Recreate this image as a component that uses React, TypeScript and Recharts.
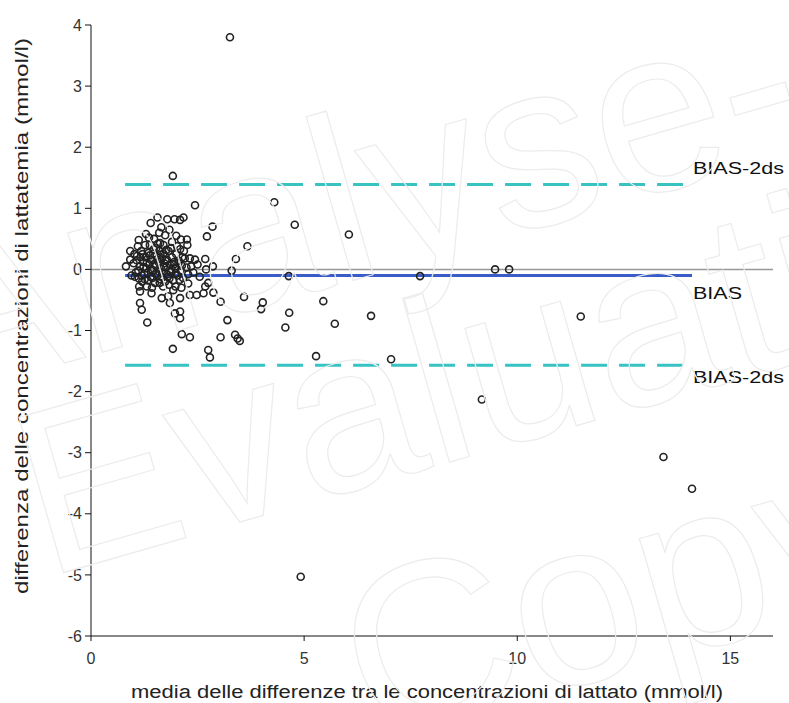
import React from "react"
import { ReferenceLine, Scatter, ScatterChart, XAxis, YAxis } from "recharts"

// media delle differenze (x) e differenza (y)
const meanValues = [
  3.26, 1.92, 2.44, 4.3, 4.78, 6.05, 3.67, 2.85, 2.72, 3.4, 3.3, 2.86, 2.7, 4.64, 7.72, 9.48, 9.81,
  3.59, 4.03, 3.99, 4.65, 4.56, 5.45, 5.72, 6.57, 11.49, 3.49, 3.44, 3.38, 5.28, 7.04, 9.17, 13.43,
  14.1, 4.92, 3.04, 2.32, 2.13, 1.92, 2.75, 2.79, 3.2, 3.04, 1.32, 1.15, 1.19, 1.85, 1.97, 2.09,
  2.09, 2.87, 2.64, 2.68, 2.75, 2.28, 2.32, 2.48, 2.09, 1.93, 1.81, 1.66, 1.42, 1.31, 1.15,
  1.56, 1.79, 1.96, 2.09, 2.17, 1.4, 1.65, 1.84, 1.74, 1.29, 1.12, 2.11, 2.25, 0.92, 1.38, 1.62,
  2.09, 2.68, 0.92, 0.82, 2.32, 2.44,
  1.0, 1.05, 1.08, 1.12, 1.15, 1.18, 1.2, 1.22, 1.25, 1.28, 1.3, 1.33, 1.35, 1.37, 1.4, 1.42, 1.45,
  1.47, 1.5, 1.52, 1.54, 1.56, 1.58, 1.6, 1.62, 1.64, 1.66, 1.68, 1.7, 1.72, 1.74, 1.76, 1.78, 1.8,
  1.82, 1.85, 1.87, 1.9, 1.93, 1.95, 1.98, 2.0, 2.03, 2.06, 2.1, 2.13, 2.16, 2.2, 2.24, 2.28, 0.95,
  1.1, 1.27, 1.43, 1.57, 1.69, 1.83, 2.02, 2.35, 2.4, 2.5, 2.55, 1.48, 1.36, 1.6, 1.9, 2.0, 1.02,
  1.13, 1.7, 1.53, 1.88, 2.18, 2.26, 1.98, 2.12,
  1.03, 1.07, 1.11, 1.16, 1.19, 1.23, 1.26, 1.31, 1.34, 1.38, 1.41, 1.44, 1.49, 1.51, 1.55, 1.59,
  1.63, 1.67, 1.71, 1.75, 1.79, 1.84, 1.89, 1.94, 1.99, 2.05, 2.08, 2.14, 1.21, 1.46, 1.61, 1.77,
]
const diffValues = [
  3.8, 1.53, 1.05, 1.1, 0.73, 0.57, 0.38, 0.7, 0.54, 0.17, -0.02, 0.05, 0.0, -0.11, -0.11, 0.0, 0.0,
  -0.45, -0.54, -0.65, -0.71, -0.95, -0.52, -0.89, -0.76, -0.77, -1.17, -1.13, -1.07, -1.42, -1.47,
  -2.13, -3.07, -3.59, -5.03, -1.11, -1.11, -1.06, -1.3, -1.32, -1.44, -0.83, -0.53, -0.87, -0.55,
  -0.66, -0.55, -0.72, -0.69, -0.8, -0.38, -0.39, -0.28, -0.22, -0.23, -0.42, -0.42, -0.47, -0.34,
  -0.44, -0.47, -0.39, -0.28, -0.36,
  0.85, 0.82, 0.82, 0.81, 0.85, 0.76, 0.69, 0.65, 0.56, 0.58, 0.48, 0.49, 0.49, 0.3, 0.4, 0.43,
  0.33, 0.17, 0.16, 0.05, 0.18, 0.16,
  0.1, -0.05, 0.22, -0.15, 0.05, 0.3, -0.2, 0.12, -0.08, 0.2, 0.02, -0.18, 0.27, 0.08, -0.12, 0.15,
  -0.02, 0.33, -0.22, 0.06, 0.22, -0.1, 0.12, 0.3, -0.16, 0.02, 0.18, -0.06, 0.26, 0.1, -0.2, 0.04,
  0.16, -0.12, 0.3, 0.08, -0.04, 0.2, -0.18, 0.12, 0.02, 0.25, -0.1, 0.14, -0.02, 0.06, -0.14, 0.18,
  0.03, -0.08, -0.1, 0.38, 0.4, -0.3, 0.42, -0.28, -0.25, 0.38, 0.05, -0.05, 0.08, -0.12, 0.5, 0.52,
  0.6, 0.45, 0.55, 0.25, -0.28, 0.4, 0.35, 0.35, 0.3, 0.4, -0.28, -0.3,
  -0.12, 0.15, -0.02, 0.2, -0.1, 0.04, -0.16, 0.11, -0.05, 0.23, 0.0, -0.14, 0.09, -0.07, 0.16,
  -0.03, 0.24, -0.13, 0.05, 0.14, -0.08, -0.15, 0.0, 0.08, -0.06, 0.1, -0.17, 0.2, 0.25, 0.26,
  -0.22, 0.32,
]

const bias = -0.1
const upperLimit = 1.39
const lowerLimit = -1.57
const lineStart = 0.8
const lineEnd = 14.1

const xTicks = [0, 5, 10, 15]
const yTicks = [-6, -5, -4, -3, -2, -1, 0, 1, 2, 3, 4]

const points = meanValues.map((x, i) => ({ x, y: diffValues[i] }))

const font = "'Liberation Sans', Arial, sans-serif"

function Ring(props: any) {
  const { cx, cy } = props
  return <circle cx={cx} cy={cy} r={3.5} fill="none" stroke="#222" strokeWidth={1.6} />
}

function lineLabel(text: string, dy: number, width: number) {
  return (props: any) => {
    const vb = props.viewBox
    return (
      <text
        x={vb.x + vb.width + 1}
        y={vb.y + dy}
        dominantBaseline="central"
        fontFamily={font}
        fontSize={16}
        fill="#111"
        textLength={width}
        lengthAdjust="spacingAndGlyphs"
      >
        {text}
      </text>
    )
  }
}

function XTitle(props: any) {
  const vb = props.viewBox
  return (
    <text
      x={vb.x + vb.width / 2 - 5}
      y={692}
      textAnchor="middle"
      dominantBaseline="central"
      fontFamily={font}
      fontSize={18}
      fill="#222"
      textLength={592}
      lengthAdjust="spacingAndGlyphs"
    >
      media delle differenze tra le concentrazioni di lattato (mmol/l)
    </text>
  )
}

function YTitle() {
  return (
    <text
      x={22}
      y={316}
      transform="rotate(-90 22 316)"
      textAnchor="middle"
      dominantBaseline="central"
      fontFamily={font}
      fontSize={18}
      fill="#222"
      textLength={556}
      lengthAdjust="spacingAndGlyphs"
    >
      differenza delle concentrazioni di lattatemia (mmol/l)
    </text>
  )
}

// filigrana chiara sopra il grafico
function Watermark() {
  const style = { fontFamily: font, fontSize: 235, fill: "none", stroke: "#ececec", strokeWidth: 1.2 }
  return (
    <svg
      width={789}
      height={703}
      style={{ position: "absolute", left: 0, top: 0, pointerEvents: "none" }}
    >
      <text x={-64} y={400} transform="rotate(-16 -64 400)" style={style}>Analyse-it</text>
      <text x={45} y={578} transform="rotate(-16 45 578)" style={style}>Evaluation</text>
      <text x={370} y={745} transform="rotate(-16 370 745)" style={style}>Copyright</text>
    </svg>
  )
}

export default function App() {
  return (
    <div style={{ position: "absolute", left: 0, top: 0, width: 789, height: 703, background: "#fff" }}>
      <ScatterChart width={789} height={703} margin={{ top: 25, right: 16, bottom: 17, left: 31 }}>
        <XAxis
          type="number"
          dataKey="x"
          domain={[0, 16]}
          ticks={xTicks}
          allowDataOverflow
          height={50}
          stroke="#111"
          tickSize={5}
          tickMargin={12}
          tick={{ fill: "#333", fontSize: 16, fontFamily: font }}
          label={<XTitle />}
        />
        <YAxis
          type="number"
          dataKey="y"
          domain={[-6, 4]}
          ticks={yTicks}
          allowDataOverflow
          width={60}
          stroke="#111"
          tickSize={6}
          tickMargin={3}
          tick={{ fill: "#333", fontSize: 16, fontFamily: font }}
          label={<YTitle />}
        />
        <ReferenceLine y={0} stroke="#999" strokeWidth={1.5} />
        <Scatter data={points} shape={<Ring />} isAnimationActive={false} />
        <ReferenceLine
          segment={[{ x: lineStart, y: upperLimit }, { x: lineEnd, y: upperLimit }]}
          stroke="#38c2c2"
          strokeWidth={3}
          strokeDasharray="26 12"
          label={lineLabel("BIAS-2ds", -16, 91)}
        />
        <ReferenceLine
          segment={[{ x: lineStart, y: bias }, { x: lineEnd, y: bias }]}
          stroke="#3a5cc8"
          strokeWidth={3}
          label={lineLabel("BIAS", 18, 49)}
        />
        <ReferenceLine
          segment={[{ x: lineStart, y: lowerLimit }, { x: lineEnd, y: lowerLimit }]}
          stroke="#38c2c2"
          strokeWidth={3}
          strokeDasharray="26 12"
          label={lineLabel("BIAS-2ds", 12, 91)}
        />
      </ScatterChart>
      <Watermark />
    </div>
  )
}
